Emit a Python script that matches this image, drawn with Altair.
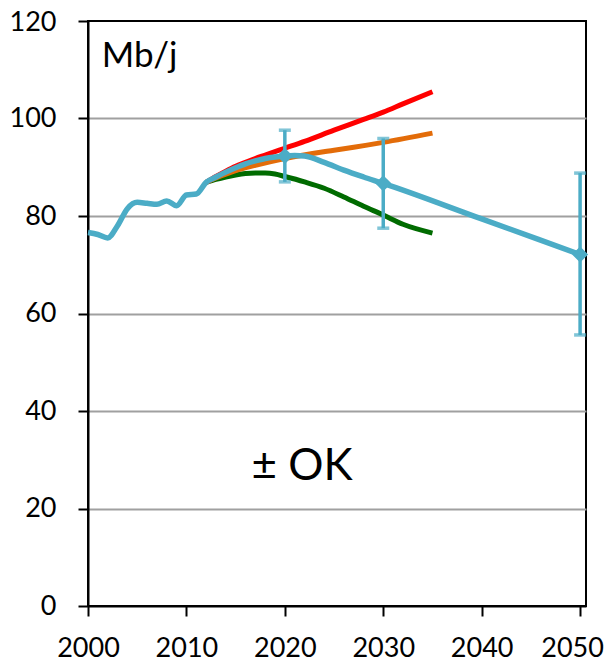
import altair as alt
import pandas as pd

# Historical + central projection (blue)
blue_years = [2000, 2001, 2002, 2003, 2004, 2005, 2006, 2007, 2008, 2009, 2010, 2011, 2012,
              2013, 2014, 2015, 2016, 2017, 2018, 2019, 2020, 2021, 2022, 2024, 2026, 2028, 2030, 2040, 2050]
blue_vals = [76.6, 76.2, 75.5, 78.0, 81.5, 82.8, 82.6, 82.4, 83.1, 82.1, 84.3, 84.5, 86.9,
             88.0, 89.0, 89.9, 90.7, 91.3, 91.8, 92.1, 92.3, 92.4, 92.3, 91.0, 89.4, 88.0, 86.7, 79.4, 72.1]

red_years = [2012, 2013, 2014, 2015, 2016, 2017, 2018, 2019, 2020, 2022, 2025, 2028, 2030, 2032, 2035]
red_vals = [86.9, 88.1, 89.2, 90.2, 91.0, 91.8, 92.5, 93.2, 93.9, 95.3, 97.6, 99.8, 101.3, 103.0, 105.5]

orange_years = [2012, 2013, 2014, 2015, 2017, 2020, 2025, 2027, 2030, 2035]
orange_vals = [86.9, 87.8, 88.6, 89.3, 90.4, 91.8, 93.5, 94.1, 95.1, 97.0]

green_years = [2012, 2013, 2014, 2015, 2016, 2017, 2018, 2019, 2020, 2022, 2024, 2026, 2028, 2030, 2032, 2035]
green_vals = [86.9, 87.5, 88.0, 88.4, 88.7, 88.8, 88.8, 88.6, 88.1, 87.0, 85.7, 83.9, 82.0, 80.2, 78.3, 76.5]

# Markers with uncertainty ranges
mark_years = [2020, 2030, 2050]
mark_vals = [92.3, 86.7, 72.1]
mark_low = [87.0, 77.5, 55.6]
mark_high = [97.6, 95.9, 88.8]

# Annotations
ann_text = ["Mb/j", "± OK"]
ann_x = [2001.4, 2016.6]
ann_y = [110.6, 25.8]
ann_size = [35, 44]

x_ticks = [2000, 2010, 2020, 2030, 2040, 2050]
y_ticks = [0, 20, 40, 60, 80, 100, 120]

BLUE = "#4BACC6"
RED = "#FF0000"
ORANGE = "#E36C09"
GREEN = "#006B00"

xscale = alt.Scale(domain=[2000, 2050.6], nice=False, zero=False)
yscale = alt.Scale(domain=[0, 120], nice=False)

xaxis = alt.Axis(values=x_ticks, format="d", title=None, grid=False, labelPadding=19,
                 labelFlush=False, labelOverlap=False,
                 labelOffset={"condition": {"test": "datum.value === 2050", "value": -8}, "value": 0})
yaxis = alt.Axis(values=y_ticks, title=None, labelPadding=22,
                 labelOffset={"condition": {"test": "datum.value === 120", "value": 1.5}, "value": 0},
                 gridColor={"condition": {"test": "datum.value === 0 || datum.value === 120",
                                          "value": "transparent"}, "value": "#A0A0A0"})


def line(years, vals, color, width):
    df = pd.DataFrame({"year": years, "value": vals})
    return alt.Chart(df).mark_line(color=color, strokeWidth=width, interpolate="monotone").encode(
        x=alt.X("year:Q", scale=xscale, axis=xaxis),
        y=alt.Y("value:Q", scale=yscale, axis=yaxis),
    )


mdf = pd.DataFrame({"year": mark_years, "value": mark_vals, "low": mark_low, "high": mark_high})
adf = pd.DataFrame({"x": ann_x, "y": ann_y, "text": ann_text, "size": ann_size})

err = alt.Chart(mdf).mark_rule(color=BLUE, strokeWidth=3.5).encode(
    x=alt.X("year:Q", scale=xscale), y=alt.Y("low:Q", scale=yscale), y2="high:Q")
cap_lo = alt.Chart(mdf).mark_tick(color=BLUE, orient="horizontal", size=12, thickness=3.5).encode(
    x=alt.X("year:Q", scale=xscale), y=alt.Y("low:Q", scale=yscale))
cap_hi = alt.Chart(mdf).mark_tick(color=BLUE, orient="horizontal", size=12, thickness=3.5).encode(
    x=alt.X("year:Q", scale=xscale), y=alt.Y("high:Q", scale=yscale))
pts = alt.Chart(mdf).mark_point(shape="diamond", filled=True, size=260, color=BLUE, opacity=1).encode(
    x=alt.X("year:Q", scale=xscale), y=alt.Y("value:Q", scale=yscale))

txt = alt.Chart(adf).mark_text(align="left", baseline="alphabetic", font="Lato", color="black").encode(
    x=alt.X("x:Q", scale=xscale), y=alt.Y("y:Q", scale=yscale), text="text:N",
    size=alt.Size("size:Q", scale=None, legend=None))

chart = alt.layer(
    line(green_years, green_vals, GREEN, 5),
    line(orange_years, orange_vals, ORANGE, 5),
    line(red_years, red_vals, RED, 5),
    line(blue_years, blue_vals, BLUE, 5.5),
    err, cap_lo, cap_hi, pts, txt,
).properties(
    width=498, height=585,
    autosize=alt.AutoSizeParams(type="none"),
    padding={"left": 80, "top": 13, "right": 19, "bottom": 56},
).configure_view(
    stroke="black", strokeWidth=2
).configure_axis(
    labelFont="Lato", labelFontSize=27, labelColor="black",
    domainColor="black", domainWidth=2,
    tickColor="black", tickWidth=2, tickSize=10,
    gridWidth=2,
)

chart.save("out.html", embed_options={"renderer": "svg", "actions": False})
